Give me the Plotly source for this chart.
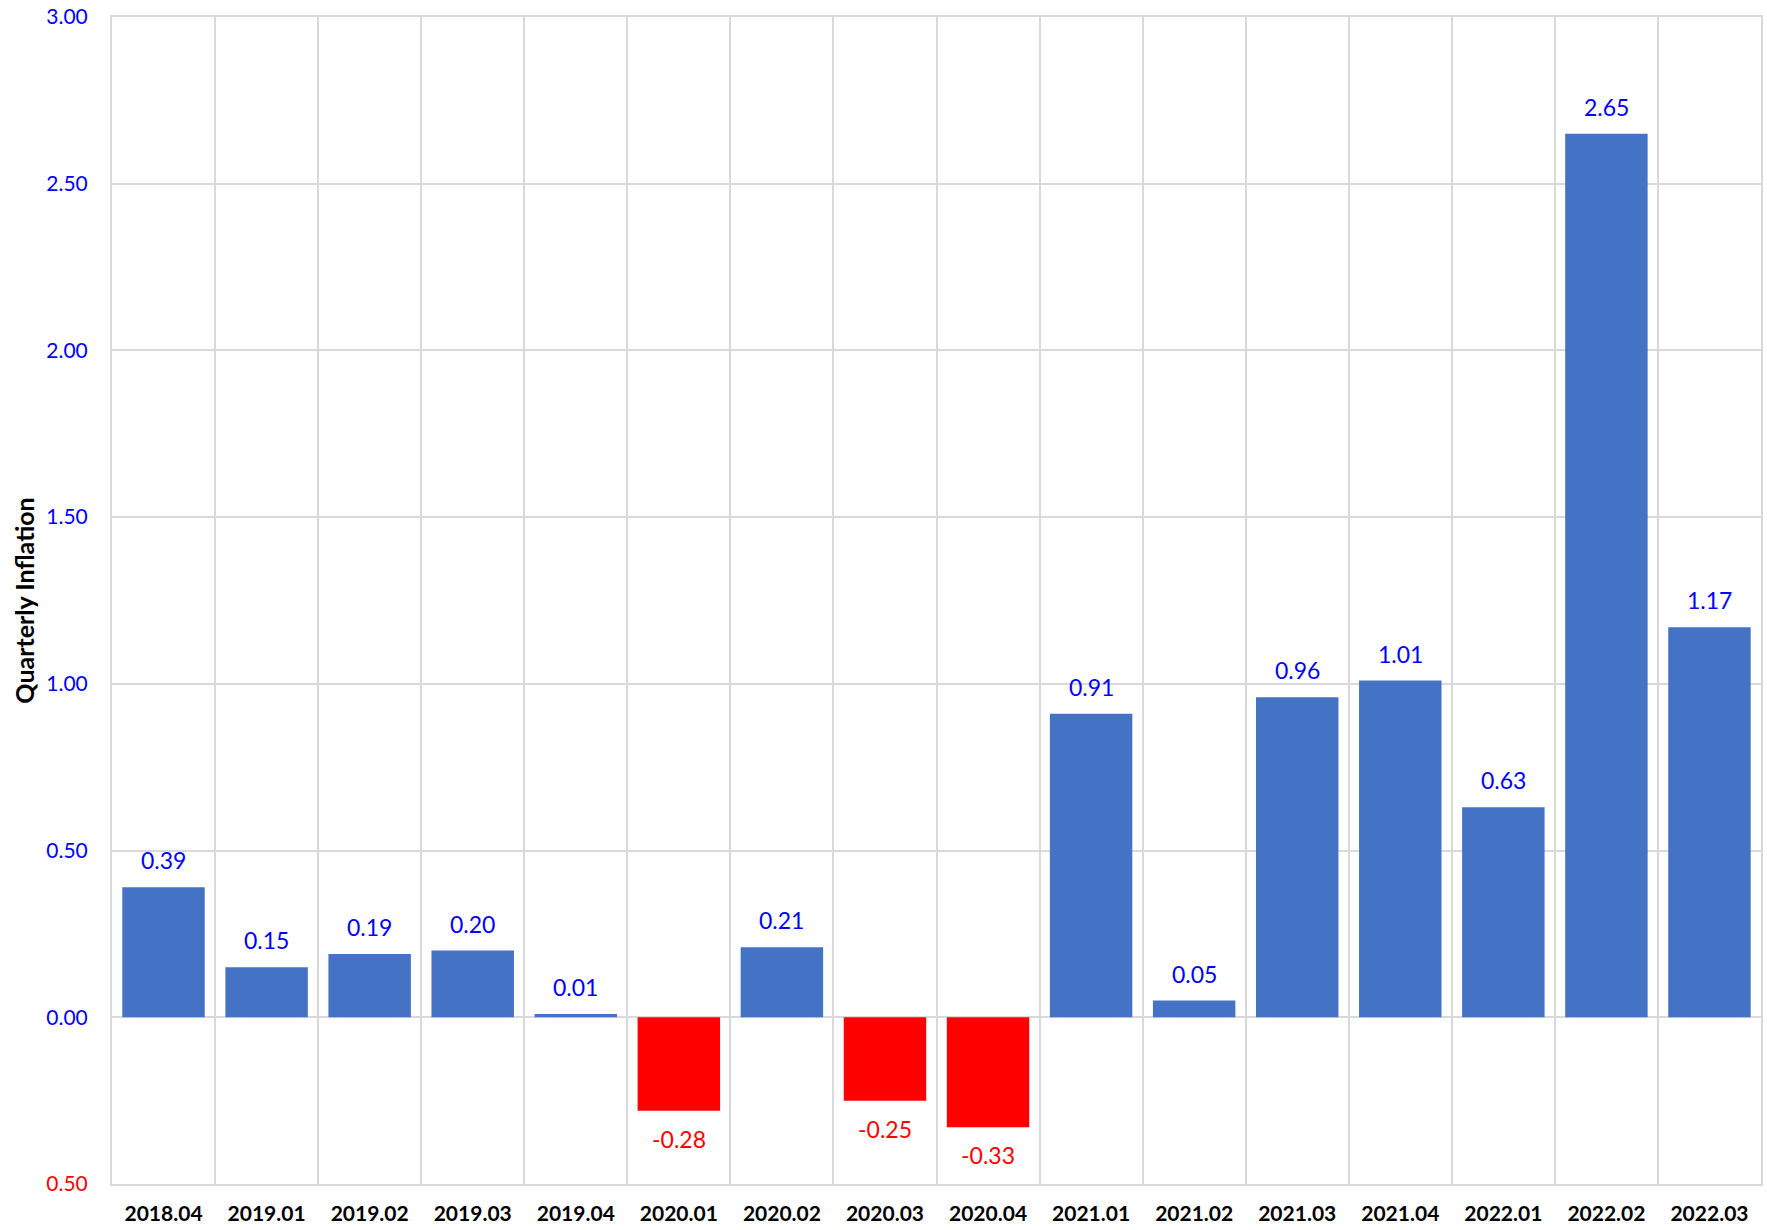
import plotly.graph_objects as go

quarters = ["2018.04", "2019.01", "2019.02", "2019.03", "2019.04", "2020.01", "2020.02",
            "2020.03", "2020.04", "2021.01", "2021.02", "2021.03", "2021.04", "2022.01",
            "2022.02", "2022.03"]
inflation = [0.39, 0.15, 0.19, 0.20, 0.01, -0.28, 0.21, -0.25, -0.33, 0.91, 0.05, 0.96,
             1.01, 0.63, 2.65, 1.17]
y_ticks = [-0.5, 0.0, 0.5, 1.0, 1.5, 2.0, 2.5, 3.0]

POS = "#4472C4"
NEG = "#FF0000"
FONT = "Lato"

colors = [POS if v >= 0 else NEG for v in inflation]

fig = go.Figure(go.Bar(x=quarters, y=inflation, marker=dict(color=colors, line=dict(width=0))))

for i, v in enumerate(inflation):
    fig.add_annotation(
        x=i, y=v, xref="x", yref="y", text=f"{v:.2f}", showarrow=False,
        yanchor="bottom" if v >= 0 else "top",
        yshift=11 if v >= 0 else -12,
        font=dict(family=FONT, size=23, color="#0000FF" if v >= 0 else NEG),
    )

ticktext = []
for t in y_ticks:
    if t < 0:
        ticktext.append(f"<span style='color:{NEG}'>{abs(t):.2f}</span>")
    else:
        ticktext.append(f"{t:.2f}")

fig.update_layout(
    width=1767, height=1230,
    margin=dict(l=112, r=6, t=17, b=46),
    paper_bgcolor="white", plot_bgcolor="white",
    bargap=0.2,
    showlegend=False,
    font=dict(family=FONT),
    xaxis=dict(
        type="category", categoryorder="array", categoryarray=quarters,
        range=[-0.5, len(quarters) - 0.5], automargin=False,
        tickson="boundaries", showgrid=True, gridcolor="#D9D9D9", gridwidth=2,
        ticks="", ticklabelstandoff=10, tickangle=0,
        tickfont=dict(family=FONT, size=21, color="black", weight="bold"),
        showline=True, linecolor="#D9D9D9", linewidth=2, mirror=True,
        zeroline=False,
    ),
    yaxis=dict(
        range=[-0.5, 3.0], tickvals=y_ticks, ticktext=ticktext, automargin=False,
        showgrid=True, gridcolor="#D9D9D9", gridwidth=2,
        tickfont=dict(family=FONT, size=21, color="#0000FF"),
        ticks="", ticklabelstandoff=18,
        zeroline=True, zerolinecolor="#D9D9D9", zerolinewidth=2,
        showline=True, linecolor="#D9D9D9", linewidth=2, mirror=True,
        title=dict(text="<b>Quarterly Inflation</b>", font=dict(family=FONT, size=25, color="black"), standoff=5),
    ),
)

fig.write_html(
    "out.html",
    config={"displayModeBar": False},
    post_script="document.body.style.margin='0';document.body.style.padding='0';document.body.style.overflow='hidden';",
)
